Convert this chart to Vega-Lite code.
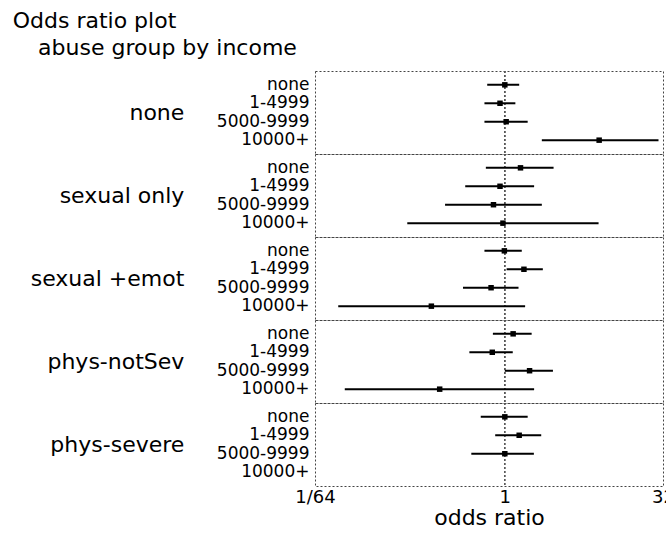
{
  "$schema": "https://vega.github.io/schema/vega-lite/v6.json",
  "padding": {"left": 12, "top": 10, "right": 0, "bottom": 0},
  "autosize": {"type": "pad"},
  "background": "white",
  "bounds": "flush",
  "title": {
    "text": "Odds ratio plot",
    "subtitle": "\u200b\u00a0\u00a0\u00a0\u2009abuse group by income",
    "anchor": "start",
    "frame": "bounds",
    "dx": -18,
    "font": "DejaVu Sans",
    "fontSize": 22,
    "fontWeight": "normal",
    "color": "black",
    "subtitleFont": "DejaVu Sans",
    "subtitleFontSize": 22,
    "subtitleColor": "black",
    "subtitlePadding": 5,
    "offset": 10
  },
  "data": {
    "values": [
      {"group": "none", "income": "none", "or": 1.0, "lo": 0.68, "hi": 1.37},
      {"group": "none", "income": "1-4999", "or": 0.90, "lo": 0.64, "hi": 1.26},
      {"group": "none", "income": "5000-9999", "or": 1.03, "lo": 0.64, "hi": 1.65},
      {"group": "none", "income": "10000+", "or": 7.9, "lo": 2.25, "hi": 29.0},
      {"group": "sexual only", "income": "none", "or": 1.41, "lo": 0.66, "hi": 2.91},
      {"group": "sexual only", "income": "1-4999", "or": 0.90, "lo": 0.42, "hi": 1.9},
      {"group": "sexual only", "income": "5000-9999", "or": 0.78, "lo": 0.27, "hi": 2.25},
      {"group": "sexual only", "income": "10000+", "or": 0.96, "lo": 0.118, "hi": 7.8},
      {"group": "sexual +emot", "income": "none", "or": 0.99, "lo": 0.64, "hi": 1.45},
      {"group": "sexual +emot", "income": "1-4999", "or": 1.52, "lo": 1.04, "hi": 2.3},
      {"group": "sexual +emot", "income": "5000-9999", "or": 0.74, "lo": 0.40, "hi": 1.35},
      {"group": "sexual +emot", "income": "10000+", "or": 0.20, "lo": 0.026, "hi": 1.56},
      {"group": "phys-notSev", "income": "none", "or": 1.2, "lo": 0.77, "hi": 1.8},
      {"group": "phys-notSev", "income": "1-4999", "or": 0.76, "lo": 0.46, "hi": 1.19},
      {"group": "phys-notSev", "income": "5000-9999", "or": 1.72, "lo": 1.0, "hi": 2.87},
      {"group": "phys-notSev", "income": "10000+", "or": 0.24, "lo": 0.030, "hi": 1.9},
      {"group": "phys-severe", "income": "none", "or": 1.0, "lo": 0.59, "hi": 1.65},
      {"group": "phys-severe", "income": "1-4999", "or": 1.37, "lo": 0.81, "hi": 2.22},
      {"group": "phys-severe", "income": "5000-9999", "or": 1.0, "lo": 0.48, "hi": 1.89}
    ]
  },
  "facet": {
    "row": {
      "field": "group",
      "type": "nominal",
      "sort": ["none", "sexual only", "sexual +emot", "phys-notSev", "phys-severe"],
      "title": null,
      "header": {
        "labelOrient": "left",
        "labelAngle": 0,
        "labelAlign": "left",
        "labelBaseline": "middle",
        "labelFont": "DejaVu Sans",
        "labelFontSize": 22,
        "labelColor": "black",
        "labelPadding": 32
      }
    }
  },
  "spacing": 0,
  "spec": {
    "width": 348,
    "height": 83,
    "layer": [
      {
        "mark": {"type": "rule", "strokeDash": [2, 2], "color": "#555", "strokeWidth": 1},
        "encoding": {"x": {"datum": 1, "type": "quantitative"}}
      },
      {
        "mark": {"type": "rule", "color": "black", "strokeWidth": 2},
        "encoding": {
          "y": {
            "field": "income",
            "type": "nominal",
            "scale": {"domain": ["none", "1-4999", "5000-9999", "10000+"], "padding": 0.5},
            "axis": {"title": null, "domain": false, "ticks": false, "labelFont": "DejaVu Sans", "labelFontSize": 17, "labelColor": "black", "labelPadding": 6}
          },
          "x": {
            "field": "lo",
            "type": "quantitative",
            "scale": {"type": "log", "base": 2, "domain": [0.015625, 32], "nice": false},
            "axis": {
              "title": "odds ratio",
              "values": [0.015625, 1, 32],
              "labelExpr": "datum.value < 0.1 ? '1/64' : format(datum.value, 'd')",
              "grid": false,
              "ticks": false,
              "domain": false,
              "labelFlush": false,
              "labelFont": "DejaVu Sans",
              "labelFontSize": 18,
              "labelColor": "black",
              "labelPadding": 2,
              "titleFont": "DejaVu Sans",
              "titleFontSize": 22,
              "titleFontWeight": "normal",
              "titleColor": "black",
              "titlePadding": 1
            }
          },
          "x2": {"field": "hi"}
        }
      },
      {
        "mark": {"type": "point", "shape": "square", "filled": true, "color": "black", "size": 30, "opacity": 1},
        "encoding": {
          "y": {"field": "income", "type": "nominal"},
          "x": {"field": "or", "type": "quantitative"}
        }
      }
    ]
  },
  "config": {
    "view": {"stroke": "#444", "strokeDash": [2, 2], "strokeWidth": 1}
  }
}
